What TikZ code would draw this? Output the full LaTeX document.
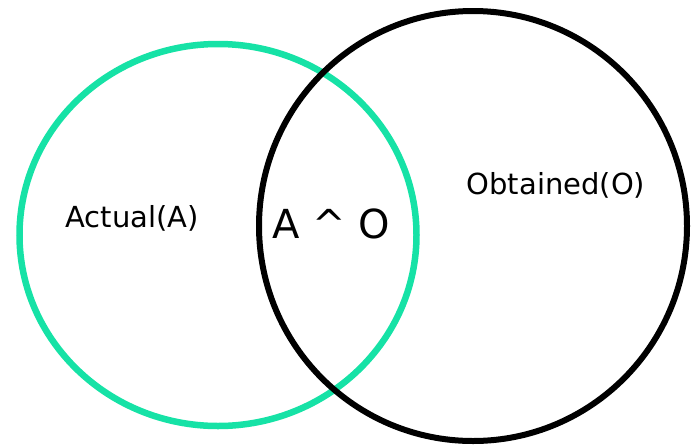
\documentclass[tikz,border=0pt]{standalone}
\usepackage{fontspec}
\setmainfont{DejaVu Sans}
\definecolor{vgreen}{RGB}{22,226,166}
\begin{document}
\begin{tikzpicture}[x=1pt,y=-1pt,
  setA/.style={draw=vgreen,line width=6.5pt},
  setO/.style={draw=black,line width=6pt},
  lbl/.style={anchor=base,inner sep=0pt,font=\fontsize{29}{32}\selectfont},
  biglbl/.style={anchor=base,inner sep=0pt,font=\fontsize{40}{44}\selectfont}]
\useasboundingbox (0,0) rectangle (693,445);
\draw[setA] (218,235) ellipse [x radius=198.5, y radius=191];
\draw[setO] (473,226) ellipse [x radius=214, y radius=215];
\node[lbl] (actual) at (132,227) {Actual(A)};
\node[lbl] (obtained) at (556,194) {Obtained(O)};
\node[biglbl] (inter) at (331,238) {A \^{} O};
\end{tikzpicture}
\end{document}
